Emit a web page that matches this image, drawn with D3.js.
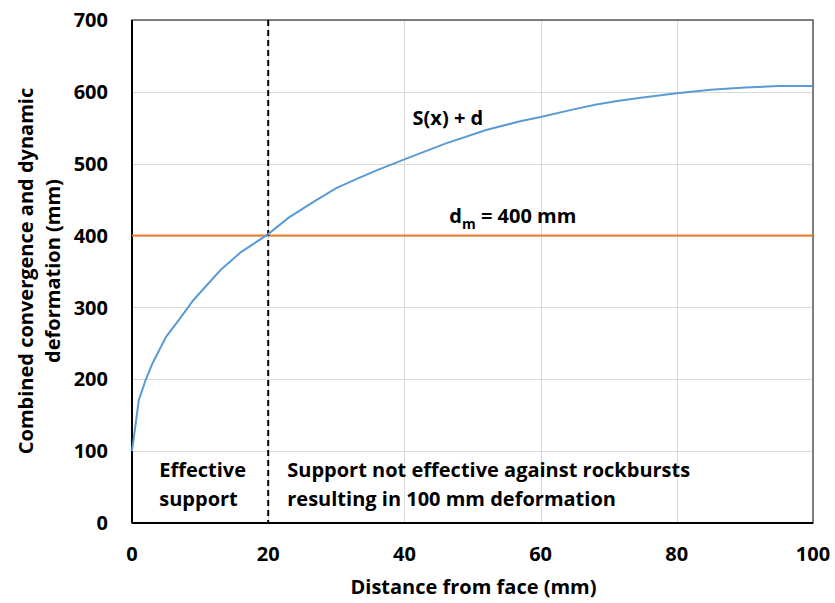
<!DOCTYPE html>
<html lang="en">
<head>
<meta charset="UTF-8">
<title>Combined convergence and dynamic deformation</title>
<script src="https://d3js.org/d3.v7.min.js"></script>
<style>
    body { margin: 0; background: #fff; }
    svg text { font-family: "Open Sans", Lato, sans-serif; font-weight: bold; fill: #000; }
    .grid line { stroke: #d9d9d9; stroke-width: 1; shape-rendering: crispEdges; }
    .grid path { display: none; }
</style>
</head>
<body>
<svg id="chart" width="835" height="603"></svg>
<script>
    // curve S(x) + d
    const distance = [0, 1, 2, 3, 5, 7, 9, 13, 16, 20, 23, 27, 30, 33, 36, 40, 46, 52, 57, 60, 65, 68, 71, 75, 80, 85, 90, 95, 100];
    const deformation = [100, 171, 199, 222, 259, 284, 310, 352, 377, 402, 425, 449, 466, 479, 491, 506, 528, 547, 559, 565, 576, 582, 587, 592, 598, 603, 606, 608, 608];
    const dmLimit = 400;
    const supportLimit = 20;
    const xTicks = [0, 20, 40, 60, 80, 100];
    const yTicks = [0, 100, 200, 300, 400, 500, 600, 700];

    const margin = { top: 20, right: 22, bottom: 80, left: 132 };
    const width = 835 - margin.left - margin.right;
    const height = 603 - margin.top - margin.bottom;

    const svg = d3.select("#chart");
    const g = svg.append("g").attr("transform", `translate(${margin.left},${margin.top})`);

    const x = d3.scaleLinear().domain([0, 100]).range([0, width]);
    const y = d3.scaleLinear().domain([0, 700]).range([height, 0]);

    // gridlines
    g.append("g").attr("class", "grid")
        .call(d3.axisLeft(y).tickValues(yTicks).tickSize(-width).tickFormat(""));
    g.append("g").attr("class", "grid")
        .attr("transform", `translate(0,${height})`)
        .call(d3.axisBottom(x).tickValues(xTicks).tickSize(-height).tickFormat(""));

    // plot border
    g.append("rect")
        .attr("width", width).attr("height", height)
        .attr("fill", "none").attr("stroke", "#595959").attr("stroke-width", 1.5);
    g.append("line").attr("x1", 0).attr("x2", 0).attr("y1", 0).attr("y2", height)
        .attr("stroke", "#000").attr("stroke-width", 2);
    g.append("line").attr("x1", 0).attr("x2", width).attr("y1", height).attr("y2", height)
        .attr("stroke", "#000").attr("stroke-width", 2);

    // tick labels
    g.selectAll(".ytick").data(yTicks).enter().append("text")
        .attr("x", -24).attr("y", d => y(d)).attr("dy", "0.36em")
        .attr("text-anchor", "end").style("font-size", "20px")
        .text(d => d);
    g.selectAll(".xtick").data(xTicks).enter().append("text")
        .attr("x", d => x(d)).attr("y", height + 38)
        .attr("text-anchor", "middle").style("font-size", "20px")
        .text(d => d);

    // axis titles
    svg.append("text")
        .attr("x", margin.left + width / 2 + 1).attr("y", 594)
        .attr("text-anchor", "middle").style("font-size", "20px")
        .text("Distance from face (mm)");
    const yTitle = svg.append("text")
        .attr("transform", `translate(33,271) rotate(-90)`)
        .attr("text-anchor", "middle").style("font-size", "20px");
    yTitle.append("tspan").attr("x", 0).attr("y", 0).text("Combined convergence and dynamic");
    yTitle.append("tspan").attr("x", 0).attr("y", 27).text("deformation (mm)");

    // dm limit line
    g.append("line")
        .attr("x1", 0).attr("x2", width)
        .attr("y1", y(dmLimit)).attr("y2", y(dmLimit))
        .attr("stroke", "#ed7d31").attr("stroke-width", 2);

    // support limit dashed line
    g.append("line")
        .attr("x1", x(supportLimit)).attr("x2", x(supportLimit))
        .attr("y1", 0).attr("y2", height)
        .attr("stroke", "#000").attr("stroke-width", 2)
        .attr("stroke-dasharray", "6 4");

    // curve
    const line = d3.line().x(d => x(d[0])).y(d => y(d[1]));
    g.append("path")
        .datum(distance.map((d, i) => [d, deformation[i]]))
        .attr("d", line)
        .attr("fill", "none").attr("stroke", "#5b9bd5").attr("stroke-width", 2);

    // annotations
    g.append("text").attr("x", x(41.2)).attr("y", y(554))
        .style("font-size", "20px").text("S(x) + d");
    const dm = g.append("text").attr("x", x(46.6)).attr("y", y(418))
        .style("font-size", "20px");
    dm.append("tspan").text("d");
    dm.append("tspan").attr("dy", 6).style("font-size", "14px").text("m");
    dm.append("tspan").attr("dy", -6).text(" = 400 mm");

    const eff = g.append("text").attr("y", y(64))
        .style("font-size", "20px");
    eff.append("tspan").attr("x", x(4)).text("Effective");
    eff.append("tspan").attr("x", x(4)).attr("dy", 29).text("support");

    const notEff = g.append("text").attr("y", y(64))
        .style("font-size", "20px");
    notEff.append("tspan").attr("x", x(22.8)).text("Support not effective against rockbursts");
    notEff.append("tspan").attr("x", x(22.8)).attr("dy", 29).text("resulting in 100 mm deformation");
</script>
</body>
</html>
